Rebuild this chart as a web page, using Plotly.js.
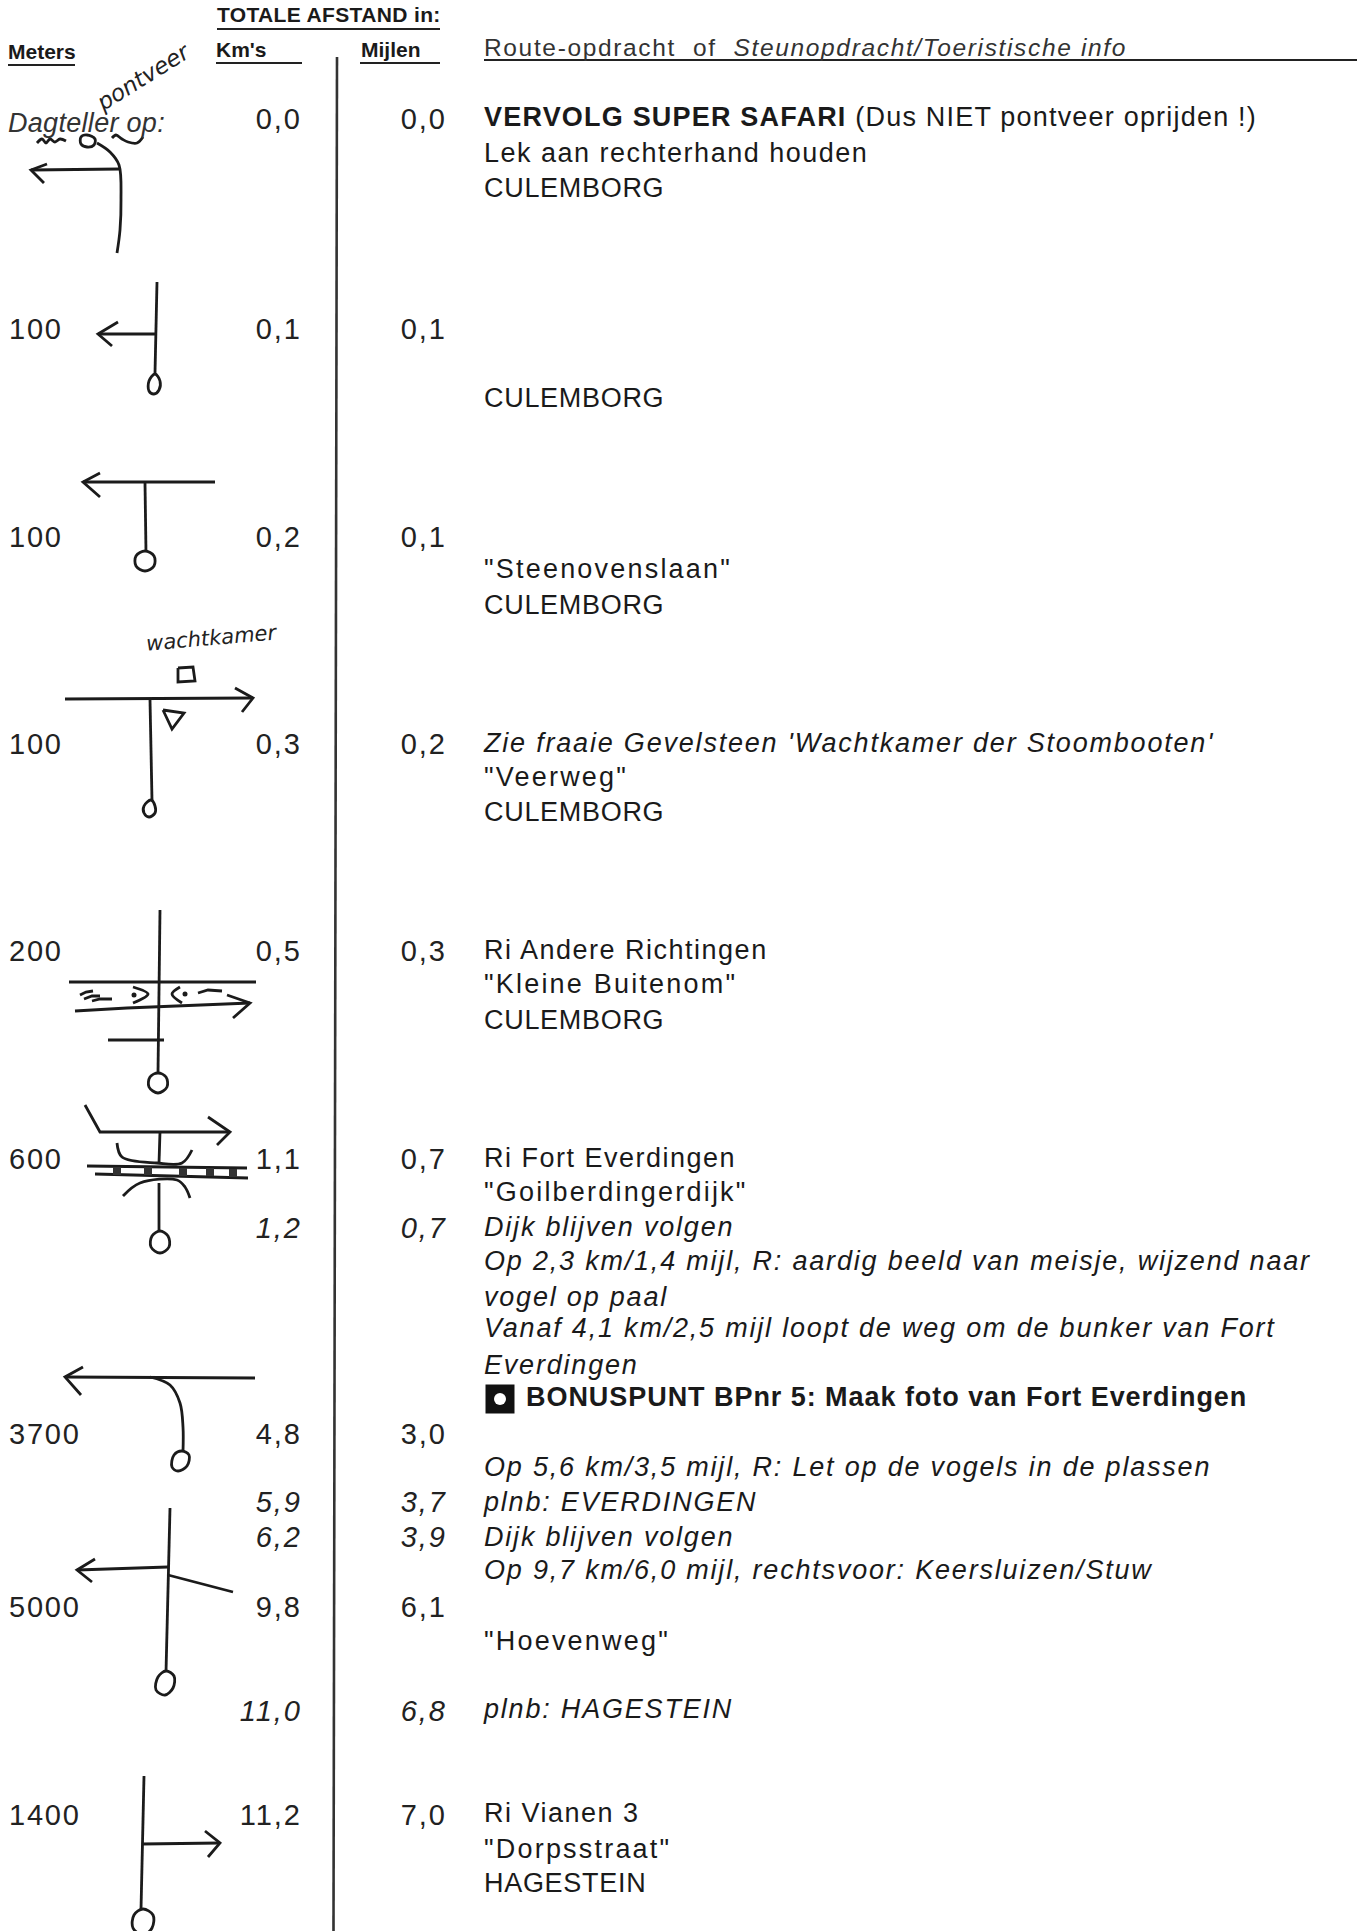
<!DOCTYPE html>
<html><head><meta charset="utf-8">
<script src="https://cdn.plot.ly/plotly-3.0.1.min.js"></script>
<style>html,body{margin:0;padding:0;background:#fff}#c{width:1371px;height:1931px}</style>
</head><body><div id="c"></div>
<script>
// Column texts and their page positions
const meterLabels = ["100","100","100","200","600","3700","5000","1400"];
const meterY      = [332,540,747,954,1162,1437,1610,1818];
const kmLabels    = ["0,0","0,1","0,2","0,3","0,5","1,1","4,8","9,8","11,2"];
const kmY         = [122,332,540,747,954,1162,1437,1610,1818];
const kmItalic    = ["1,2","5,9","6,2","11,0"];
const kmItalicY   = [1231,1505,1540,1714];
const milesLabels = ["0,0","0,1","0,1","0,2","0,3","0,7","3,0","6,1","7,0"];
const milesItalic = ["0,7","3,7","3,9","6,8"];

const firstLine = "<b>VERVOLG SUPER SAFARI</b> (Dus NIET pontveer oprijden !)";
const plainLines = ["Lek aan rechterhand houden","Ri Andere Richtingen","Ri Fort Everdingen","Ri Vianen 3"];
const plainY = [155,952,1160,1815];
const quotedLines = ["\"Steenovenslaan\"","\"Veerweg\"","\"Kleine Buitenom\"","\"Goilberdingerdijk\"","\"Hoevenweg\"","\"Dorpsstraat\""];
const quotedY = [571,779,986,1194,1643,1851];
const placeLines = ["CULEMBORG","CULEMBORG","CULEMBORG","CULEMBORG","CULEMBORG","HAGESTEIN"];
const placeY = [190,400,607,814,1022,1885];
const routeItalic = ["Zie fraaie Gevelsteen 'Wachtkamer der Stoombooten'","Dijk blijven volgen",
  "Op 2,3 km/1,4 mijl, R: aardig beeld van meisje, wijzend naar","vogel op paal",
  "Vanaf 4,1 km/2,5 mijl loopt de weg om de bunker van Fort","Everdingen",
  "Op 5,6 km/3,5 mijl, R: Let op de vogels in de plassen","plnb: EVERDINGEN","Dijk blijven volgen",
  "Op 9,7 km/6,0 mijl, rechtsvoor: Keersluizen/Stuw","plnb: HAGESTEIN"];
const routeItalicY = [745,1229,1263,1299,1330,1367,1469,1504,1539,1572,1711];
const bonusText = "<b>BONUSPUNT BPnr 5: Maak foto van Fort Everdingen</b>";

// Hand-drawn route sketches, page coordinates: [x,y] points per stroke
const straightStrokes = [
  [[120,169],[31,170]],[[47,164],[31,170],[44,183]],
  [[157,282],[155,373]],[[155,334],[98,334]],[[118,322],[98,334],[112,346]],
  [[215,482],[83,482]],[[100,473],[83,482],[100,497]],[[145,483],[146,552]],
  [[178,668],[193,667],[195,681],[178,682],[178,668]],
  [[65,699],[253,698]],[[235,688],[253,698],[242,712]],[[150,700],[152,800]],
  [[163,710],[184,713],[172,729],[163,710]],
  [[160,910],[158,1073]],[[69,982],[256,982]],[[75,1011],[127,1008],[250,1003]],[[227,995],[250,1003],[233,1018]],[[108,1040],[164,1040]],
  [[80,995],[86,992],[93,991]],[[84,999],[92,996],[100,996]],[[92,1001],[100,999],[112,999]],[[198,993],[208,990],[222,991]],
  [[85,1105],[100,1132],[230,1132]],[[208,1117],[230,1132],[217,1145]],[[160,1132],[159,1163]],[[159,1183],[159,1230]],
  [[87,1166],[247,1168]],[[95,1174],[248,1178]],
  [[255,1378],[65,1377]],[[83,1367],[65,1377],[81,1395]],
  [[170,1508],[166,1672]],[[168,1567],[77,1570]],[[95,1559],[77,1570],[92,1582]],[[168,1575],[233,1592]],
  [[144,1776],[141,1910]],[[142,1844],[220,1843]],[[205,1831],[220,1843],[208,1857]]
];
const curvedStrokes = [
  [[87,135],[95,139],[94,145],[87,147],[81,144],[81,137],[87,135]],
  [[97,143],[110,152],[119,165],[121,200],[120,230],[117,253]],
  [[37,143],[42,139],[46,143],[50,139],[55,142],[60,139],[66,141]],
  [[112,138],[116,135],[122,139],[128,142],[137,143],[143,137]],
  [[155,374],[160,381],[159,390],[154,394],[149,391],[149,381],[155,374]],
  [[145,551],[154,556],[154,566],[145,571],[136,566],[136,556],[145,551]],
  [[151,800],[155,806],[155,813],[149,817],[144,813],[144,806],[151,800]],
  [[133,987],[148,994],[133,1003]],[[180,987],[172,994],[182,1003]],
  [[158,1073],[166,1077],[167,1087],[158,1093],[149,1087],[150,1077],[158,1073]],
  [[160,1231],[168,1236],[169,1247],[160,1253],[151,1247],[152,1236],[160,1231]],
  [[117,1143],[122,1157],[157,1163],[182,1163],[192,1150]],
  [[123,1196],[140,1183],[177,1180],[185,1187],[190,1198]],
  [[150,1377],[170,1385],[180,1403],[183,1427],[183,1452]],
  [[182,1451],[189,1455],[187,1466],[178,1471],[172,1467],[174,1455],[182,1451]],
  [[166,1671],[174,1676],[173,1688],[165,1695],[156,1690],[158,1677],[166,1671]],
  [[143,1909],[153,1915],[152,1928],[143,1935],[133,1928],[134,1915],[143,1909]]
];
const dotX = [134,185]; const dotY = [995,994];
const railX = [117,148,183,210,233]; const railY = [1171,1171,1172,1172,1173];

// Ruled lines
const rules = [[[217,29],[440,29]],[[8,65],[75,65]],[[216,63],[302,63]],[[360,63],[440,63]],[[484,60],[1357,60]]];
const divider = [[337,57],[333.5,1931]];

function flat(strokes){const x=[],y=[];strokes.forEach(s=>{s.forEach(p=>{x.push(p[0]);y.push(p[1]);});x.push(null);y.push(null);});return {x,y};}
const same=(a,v)=>a.map(()=>v);
const INK="#1b1b1b";
const numFont={family:"Liberation Sans",size:29,color:"#222"};
const numFontI={family:"Liberation Sans",size:29,color:"#222",style:"italic"};
const bodyFont={family:"Liberation Sans",size:27,color:"#1a1a1a"};
const bodyFontI={family:"Liberation Sans",size:27,color:"#1a1a1a",style:"italic"};
const boldSmall={family:"Liberation Sans",size:21,color:"#1a1a1a",weight:700};
function txt(x,y,t,pos,font,sp){return {type:"scatter",mode:"text",x,y,text:t,textposition:pos,textfont:font,cliponaxis:false,hoverinfo:"skip",showlegend:false,meta:sp||0};}
function ln(s,w,col,shape){const f=flat(s);return {type:"scatter",mode:"lines",x:f.x,y:f.y,line:{width:w,color:col,shape:shape||"linear",smoothing:1},hoverinfo:"skip",showlegend:false};}
function mk(x,y,sym,size,col){return {type:"scatter",mode:"markers",x,y,marker:{symbol:sym,size,color:col},hoverinfo:"skip",showlegend:false};}

const data=[
  ln([divider],2.6,"#333"),
  ln(rules,1.8,"#222"),
  ln(straightStrokes,2.8,INK),
  ln(curvedStrokes,2.8,INK,"spline"),
  mk(dotX,dotY,"circle",5,INK),
  mk(railX,railY,"square",8,"#333"),
  mk([500],[1399],"square",29,"#111"),
  mk([500],[1399],"circle",12,"#fff"),
  txt(same(meterLabels,9),meterY,meterLabels,"middle right",numFont,1.8),
  txt(same(kmLabels,302),kmY,kmLabels,"middle left",numFont,2),
  txt(same(kmItalic,302),kmItalicY,kmItalic,"middle left",numFontI,2),
  txt(same(milesLabels,447),kmY,milesLabels,"middle left",numFont,2),
  txt(same(milesItalic,447),kmItalicY,milesItalic,"middle left",numFontI,2),
  txt([484],[119],[firstLine],"middle right",bodyFont,1.2),
  txt(same(plainLines,484),plainY,plainLines,"middle right",bodyFont,1.5),
  txt(same(quotedLines,484),quotedY,quotedLines,"middle right",bodyFont,2.2),
  txt(same(placeLines,484),placeY,placeLines,"middle right",bodyFont,0.7),
  txt(same(routeItalic,484),routeItalicY,routeItalic,"middle right",bodyFontI,1.8),
  txt([526],[1399],[bonusText],"middle right",bodyFont,0.95),
  txt([8],[125],["Dagteller op:"],"middle right",{family:"Liberation Sans",size:27,color:"#333",style:"italic"},0.3),
  txt([217],[17],["TOTALE AFSTAND in:"],"middle right",boldSmall,0.35),
  txt([8],[54],["Meters"],"middle right",boldSmall),
  txt([216],[52],["Km's"],"middle right",boldSmall),
  txt([361],[52],["Mijlen"],"middle right",boldSmall),
  txt([484],[50],["Route-opdracht  of  <i>Steunopdracht/Toeristische info</i>"],"middle right",{family:"Liberation Sans",size:24.5,color:"#333"},1.65)
];
const layout={
  width:1371,height:1931,margin:{l:0,r:0,t:0,b:0},paper_bgcolor:"#fff",plot_bgcolor:"#fff",showlegend:false,hovermode:false,
  xaxis:{range:[0,1371],visible:false,fixedrange:true},
  yaxis:{range:[1931,0],visible:false,fixedrange:true},
  annotations:[
    {x:143,y:77,xref:"x",yref:"y",text:"pontveer",showarrow:false,textangle:-32,font:{family:"DejaVu Sans",size:23,color:"#222",style:"italic"}},
    {x:212,y:638,xref:"x",yref:"y",text:"wachtkamer",showarrow:false,textangle:-5,font:{family:"DejaVu Sans",size:21,color:"#222",style:"italic"}}
  ]
};
Plotly.newPlot("c",data,layout,{displayModeBar:false,staticPlot:true}).then(()=>{
  const groups=document.querySelectorAll(".scatterlayer .trace");
  groups.forEach((g,i)=>{ if(data[i]&&data[i].meta){ g.style.letterSpacing=data[i].meta+"px"; } });
});
</script></body></html>
